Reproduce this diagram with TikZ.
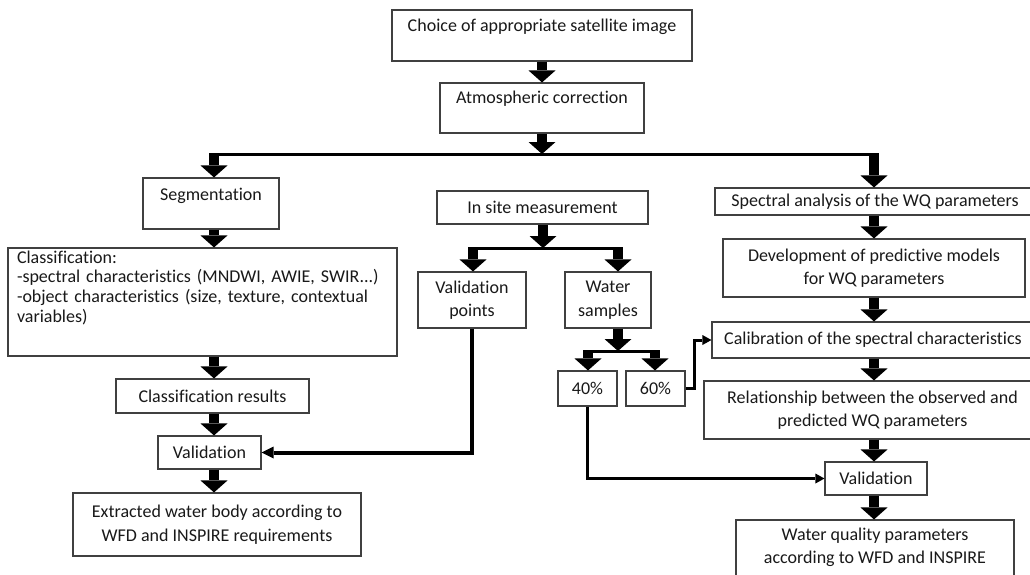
\documentclass[tikz,border=0pt]{standalone}
\usepackage{fontspec}
\setmainfont{Carlito}[Ligatures=NoCommon]
\usetikzlibrary{arrows.meta}
\begin{document}
\begin{tikzpicture}[x=1pt,y=-1pt,
  box/.style={draw=black!75, line width=1.1pt, text=black!90, align=center, inner sep=0pt,
              font=\fontsize{18}{23.5}\selectfont},
  toptext/.style={text height=12pt, text depth=#1},
  blk/.style={draw=black, line width=10pt, -{Triangle[width=27pt,length=12pt,line width=0pt]}},
  bus/.style={draw=black, line width=3pt},
  conn/.style={draw=black, line width=3pt, -{Triangle[width=10pt,length=9pt,line width=0pt]}},
  connw/.style={draw=black, line width=4pt, -{Triangle[width=12pt,length=12pt,line width=0pt]}},
]
\clip (0,0) rectangle (1030,574);
\fill[white] (0,0) rectangle (1030,574);

% top
\node[box, toptext=20pt, minimum width=300pt, minimum height=51pt] (choice) at (542,35.5) {Choice of appropriate satellite image};
\node[box, toptext=21pt, minimum width=204pt, minimum height=50pt] (atm) at (542,108) {Atmospheric correction};

% left column
\node[box, toptext=18pt, minimum width=136pt, minimum height=51pt] (seg) at (211,203.5) {Segmentation};
\node[box, minimum width=389pt, minimum height=108pt, text width=371pt, align=left,
      font=\fontsize{18}{19.7}\selectfont, text depth=90pt] (cls) at (202.5,302)
  {Classification:\\-spectral characteristics (MNDWI, AWIE, SWIR...)\\-object characteristics (size, texture, contextual\\variables)};
\node[box, minimum width=193pt, minimum height=34pt] (clsres) at (212.5,396) {Classification results};
\node[box, minimum width=103pt, minimum height=33pt] (valL) at (209.5,452.5) {Validation};
\node[box, minimum width=288pt, minimum height=63pt] (extr) at (217,524.5) {Extracted water body according to\\WFD and INSPIRE requirements};

% middle column
\node[box, minimum width=211pt, minimum height=33pt] (insite) at (542.5,207.5) {In site measurement};
\node[box, minimum width=108pt, minimum height=56pt] (vpts) at (472,300) {Validation\\points};
\node[box, minimum width=86pt, minimum height=56pt] (wsamp) at (608,300) {Water\\samples};
\node[box, minimum width=59pt, minimum height=35pt] (p40) at (587.5,388.5) {40\%};
\node[box, minimum width=59pt, minimum height=35pt] (p60) at (655.5,388.5) {60\%};

% right column
\node[box, minimum width=320pt, minimum height=27pt] (spec) at (875,201.5) {Spectral analysis of the WQ parameters};
\node[box, minimum width=302pt, minimum height=58pt] (dev) at (874,268) {Development of predictive models\\for WQ parameters};
\node[box, minimum width=322pt, minimum height=36pt] (cal) at (873,340) {Calibration of the spectral characteristics};
\node[box, minimum width=337pt, minimum height=58pt] (rel) at (872.5,410) {Relationship between the observed and\\predicted WQ parameters};
\node[box, minimum width=102pt, minimum height=33pt] (valR) at (876,478.5) {Validation};
\node[box, minimum width=278pt, minimum height=82pt] (wq) at (875,561) {Water quality parameters\\according to WFD and INSPIRE\\\strut};

% junctions
\coordinate (j1) at (542,154);
\coordinate (bL) at (214,154);
\coordinate (bR) at (874,154);
\coordinate (j2) at (543,248);
\coordinate (b2L) at (473,248);
\coordinate (b2R) at (618,248);
\coordinate (j3) at (618,351);
\coordinate (b3L) at (588,351);
\coordinate (b3R) at (655,351);
\coordinate (cL) at (214,0);
\coordinate (cR) at (874,0);

% top flow
\draw[blk] (choice) -- (atm);
\draw[blk] (atm) -- (j1);
\draw[bus, shorten <=-5pt, shorten >=-5pt] (bL) -- (bR);
\draw[blk] (bL) -- (bL |- seg.north);
\draw[blk] (bR) -- (bR |- spec.north);

% left flow
\draw[blk] (seg.south -| cL) -- (cls.north -| cL);
\draw[blk] (cls.south -| cL) -- (clsres.north -| cL);
\draw[blk] (clsres.south -| cL) -- (valL.north -| cL);
\draw[blk] (valL.south -| cL) -- (extr.north -| cL);

% middle flow
\draw[blk] (insite.south -| j2) -- (j2);
\draw[bus, shorten <=-5pt, shorten >=-5pt] (b2L) -- (b2R);
\draw[blk] (b2L) -- (b2L |- vpts.north);
\draw[blk] (b2R) -- (b2R |- wsamp.north);
\draw[blk] (wsamp.south -| j3) -- (j3);
\draw[bus, shorten <=-5pt, shorten >=-5pt] (b3L) -- (b3R);
\draw[blk] (b3L) -- (b3L |- p40.north);
\draw[blk] (b3R) -- (b3R |- p60.north);

% right flow
\draw[blk] (spec.south -| cR) -- (dev.north -| cR);
\draw[blk] (dev.south -| cR) -- (cal.north -| cR);
\draw[blk] (cal.south -| cR) -- (rel.north -| cR);
\draw[blk] (rel.south -| cR) -- (valR.north -| cR);
\draw[blk] (valR.south -| cR) -- (wq.north -| cR);

% thin connectors
\draw[connw] (vpts.south) |- (valL.east);
\draw[conn] (p40.south) |- (valR.west);
\draw[conn] (p60.east) -- ([xshift=9pt]p60.east) |- (cal.west);
\end{tikzpicture}
\end{document}
